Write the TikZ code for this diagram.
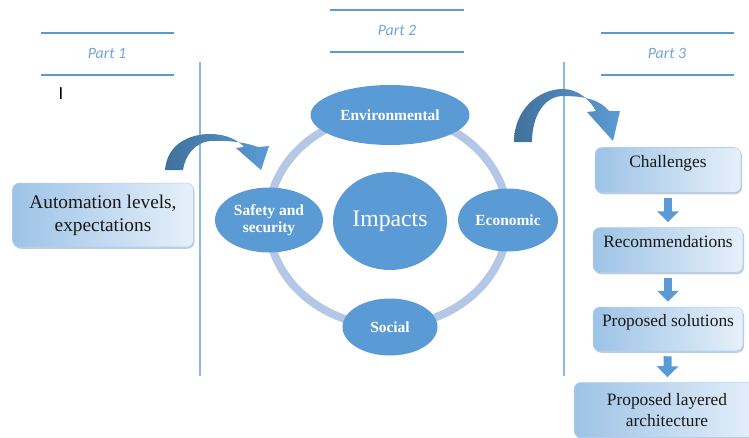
\documentclass[tikz,border=0pt]{standalone}
\usepackage{fontspec}
\setmainfont{Liberation Serif}
\newfontfamily\partfont{Carlito}
\usepackage{tikz}
\usetikzlibrary{shapes.geometric,arrows.meta,shadows}

\definecolor{impblue}{HTML}{5B9BD5}
\definecolor{ringblue}{HTML}{B4C7E7}
\definecolor{arrdark}{HTML}{41719C}
\definecolor{boxdark}{HTML}{9DC3E6}
\definecolor{boxlight}{HTML}{E6F0FA}
\definecolor{sepblue}{HTML}{8DB8E2}
\definecolor{parttext}{HTML}{6FA6DB}

\tikzset{
  partline/.style={draw=impblue, line width=1.4pt},
  parttitle/.style={text=parttext, font=\partfont\itshape\fontsize{9}{11}\selectfont},
  sepline/.style={draw=sepblue, line width=0.6pt},
  impact/.style={ellipse, fill=impblue, inner sep=0pt, text=white, align=center,
    font=\bfseries\fontsize{8.8}{9.8}\selectfont},
  stagebox/.style={rectangle, rounded corners=0.14cm, left color=boxdark, right color=boxlight,
    draw=boxdark!80, line width=0.3pt, inner sep=2pt, align=center, text=black!90,
    drop shadow={shadow xshift=0.6pt, shadow yshift=-1pt, opacity=0.35, fill=arrdark},
    font=\fontsize{9.9}{12}\selectfont},
  raised/.style={text depth=0.33cm},
  downarrow/.style={draw=impblue, line width=0.16cm, -{Triangle[width=0.42cm, length=0.22cm]},
    shorten <=0.1cm, shorten >=0.1cm},
  bendarrow/.style={left color=arrdark, right color=impblue}
}

\begin{document}
\begin{tikzpicture}[x=0.02cm, y=-0.02cm]
\useasboundingbox (0,0) rectangle (749,437);
% part headers
\draw[partline] (41,33)--(174,33);
\draw[partline] (41,75)--(174,75);
\node[parttitle] (p1) at (107,53) {Part 1};
\draw[partline] (330,10)--(464,10);
\draw[partline] (330,52)--(464,52);
\node[parttitle] (p2) at (397,30) {Part 2};
\draw[partline] (601,33)--(734,33);
\draw[partline] (601,75)--(734,75);
\node[parttitle] (p3) at (667,53) {Part 3};
\node (cursor) at (61,94) {\partfont\fontsize{10.5}{12}\selectfont I};
% separators
\draw[sepline] (200,62)--(200,376);
\draw[sepline] (564,62)--(564,376);
%
\node[stagebox, minimum width=3.62cm, minimum height=1.28cm, font=\fontsize{11}{13}\selectfont]
  (auto) at (103,215) {Automation levels,\\expectations};
% impacts
\draw[ringblue, line width=0.16cm] (388,220) ellipse [x radius=2.4cm, y radius=2.12cm];
\node[impact, minimum width=2.28cm, minimum height=1.96cm, font=\fontsize{13.5}{16}\selectfont]
  (imp) at (390,221) {Impacts};
\node[impact, minimum width=3.18cm, minimum height=1.2cm] (env) at (390,115) {Environmental};
\node[impact, minimum width=2.16cm, minimum height=1.3cm] (safe) at (269,220) {Safety and\\security};
\node[impact, minimum width=2.0cm, minimum height=1.26cm] (eco) at (508,220) {Economic};
\node[impact, minimum width=1.9cm, minimum height=1.14cm] (soc) at (390,327) {Social};
% bent arrows
\path[bendarrow] (165,170) .. controls (167,145) and (188,134) .. (210,134)
  .. controls (226,134) and (238,140) .. (244,147) -- (236,148) -- (261,170) -- (269,146) -- (258,147)
  .. controls (245,142) and (225,140) .. (210,141) .. controls (196,142) and (185,155) .. (183,170) -- cycle;
\path[bendarrow] (514,142) .. controls (514,110) and (538,89) .. (563,89)
  .. controls (578,89) and (590,100) .. (596,111) -- (587,112) -- (613,141) -- (620,111) -- (609,111)
  .. controls (600,100) and (585,96) .. (563,96) .. controls (545,96) and (532,115) .. (532,142) -- cycle;
% part 3
\node[stagebox, raised, minimum width=2.92cm, minimum height=0.9cm] (chal) at (668,170) {Challenges};
\node[stagebox, raised, minimum width=3.0cm, minimum height=0.9cm] (rec) at (668,250) {Recommendations};
\node[stagebox, raised, minimum width=3.0cm, minimum height=0.88cm] (sol) at (668,329) {Proposed solutions};
\node[stagebox, minimum width=3.72cm, minimum height=1.1cm] (arch) at (667,410) {Proposed layered\\architecture};
\draw[downarrow] (chal)--(rec);
\draw[downarrow] (rec)--(sol);
\draw[downarrow] (sol)--(arch);
\end{tikzpicture}
\end{document}
